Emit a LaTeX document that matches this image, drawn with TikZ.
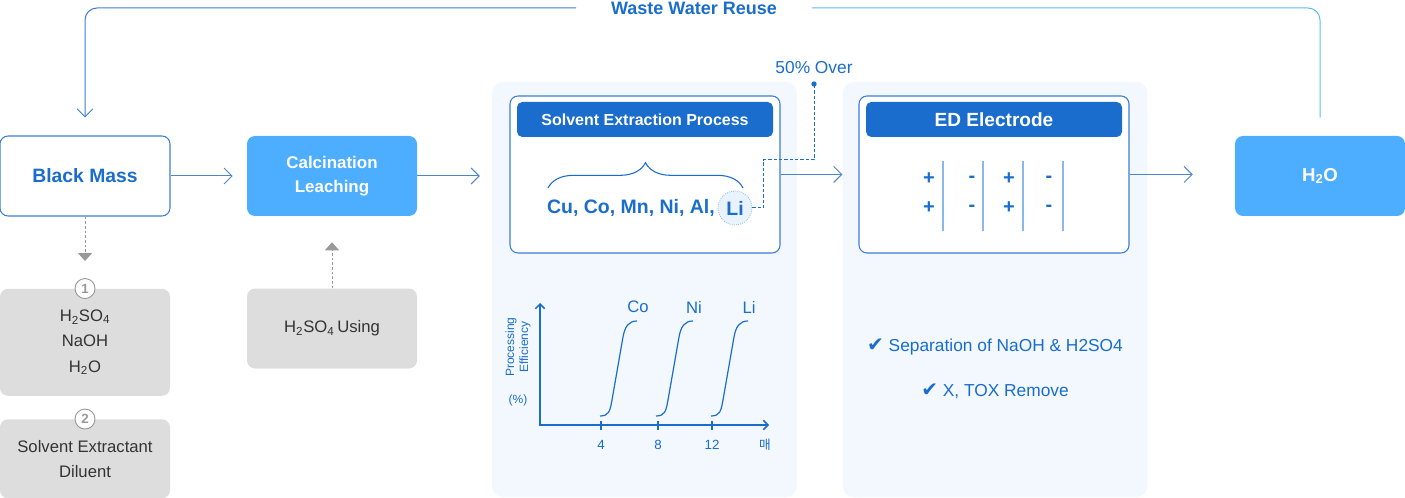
\documentclass[tikz,border=0pt]{standalone}
\usepackage{fontspec}
\setmainfont{Liberation Sans}
\newfontfamily\kofont{Noto Sans CJK KR}
\newfontfamily\symfont{DejaVu Sans}
\usetikzlibrary{arrows.meta,positioning,decorations.pathreplacing}

\definecolor{mainblue}{HTML}{1A6DCC}
\definecolor{edgeblue}{HTML}{3B7DD8}
\definecolor{flowblue}{HTML}{4A86C8}
\definecolor{skyblue}{HTML}{4DADFE}
\definecolor{reuseblue}{HTML}{5CBCF2}
\definecolor{panelbg}{HTML}{F2F8FE}
\definecolor{boxgray}{HTML}{DDDDDD}
\definecolor{textgray}{HTML}{333333}
\definecolor{dashgray}{HTML}{999999}
\definecolor{rodblue}{HTML}{8AB8EA}
\definecolor{lifill}{HTML}{E8F3FD}

\begin{document}
\begin{tikzpicture}[x=0.75pt,y=-0.75pt,>={Straight Barb[length=6pt,width=12pt]},
    box/.style={rectangle,rounded corners=6pt,minimum width=127.5pt,minimum height=60pt,align=center,inner sep=0pt},
    whitebox/.style={box,draw=edgeblue,fill=white,line width=0.8pt,text=mainblue,font=\bfseries\fontsize{14.5}{18}\selectfont},
    fillbox/.style={box,fill=skyblue,text=white,font=\bfseries\fontsize{12.7}{18}\selectfont},
    graybox/.style={box,fill=boxgray,text=textgray,font=\fontsize{12.5}{19}\selectfont},
    panel/.style={rectangle,fill=panelbg,rounded corners=8pt,minimum width=228.5pt,minimum height=311.25pt,inner sep=0pt},
    inner/.style={rectangle,draw=edgeblue,fill=white,line width=0.8pt,rounded corners=6pt,minimum width=202.5pt,minimum height=117.75pt,inner sep=0pt},
    header/.style={rectangle,fill=mainblue,rounded corners=4pt,minimum width=192pt,minimum height=26.25pt,text=white,inner sep=0pt},
    num/.style={circle,draw=dashgray,fill=white,line width=0.7pt,minimum size=15pt,inner sep=0pt,text=dashgray,font=\bfseries\fontsize{10}{11}\selectfont},
    flow/.style={->,draw=flowblue,line width=0.75pt},
    grayflow/.style={-{Triangle[length=6pt,width=10.5pt]},draw=dashgray,line width=0.75pt,dash pattern=on 2pt off 1.5pt},
    dashline/.style={draw=mainblue,line width=0.75pt,dash pattern=on 2.5pt off 1.5pt},
    axisline/.style={draw=mainblue,line width=1.1pt},
    curve/.style={draw=mainblue,line width=0.9pt},
    rod/.style={draw=rodblue,line width=1.5pt},
    sign/.style={text=mainblue,inner sep=0pt,font=\bfseries\fontsize{15}{17}\selectfont},
    bluetxt/.style={text=mainblue,inner sep=0pt}]

\useasboundingbox (0,0) rectangle (1405,498);

% main row
\node[whitebox] (bm) at (85,176) {Black Mass};
\node[fillbox] (calc) at (332,176) {Calcination\\Leaching};
\node[fillbox,font=\bfseries\fontsize{14}{18}\selectfont] (h2o) at (1320,176) {H\textsubscript{2}O};

% inputs
\node[graybox,minimum height=80.25pt] (ingr) [below=54pt of bm] {H\textsubscript{2}SO\textsubscript{4}\\NaOH\\H\textsubscript{2}O};
\node[graybox,minimum height=59.25pt] (solv) [below=17.25pt of ingr] {Solvent Extractant\\Diluent};
\node[graybox] (using) [below=54pt of calc] {H\textsubscript{2}SO\textsubscript{4}\,Using};
\node[num] (n1) at (ingr.north) {1};
\node[num] (n2) at (solv.north) {2};

\draw[grayflow,shorten >=12.75pt] (bm) -- (n1);
\draw[grayflow,shorten >=19.5pt] (using) -- (calc);

% solvent extraction
\node[panel] (sxpanel) at (644.5,289.5) {};
\node[inner] (sxbox) at (645,174.5) {};
\node[header,font=\bfseries\fontsize{12}{15}\selectfont] (sxhead) at (645,119.5) {Solvent Extraction Process};
\draw[draw=mainblue,line width=0.8pt,decorate,decoration={brace,amplitude=19pt}] (548,188) -- (743,188);
\node[bluetxt,anchor=east,font=\bfseries\fontsize{14.6}{18}\selectfont] (metals) at (715,208) {Cu, Co, Mn, Ni, Al,};
\node[circle,draw=rodblue,fill=lifill,densely dotted,line width=0.6pt,minimum size=25.5pt,inner sep=0pt,text=mainblue,font=\bfseries\fontsize{14.6}{18}\selectfont] (li) at (735,208) {Li};

\coordinate (over) at (814,84);
\coordinate (bend) at (814,160);
\draw[dashline] (li.east) -- ++(11,0) |- (bend) -- (over);
\fill[mainblue] (over) circle (2pt);
\node[bluetxt,font=\fontsize{13}{15}\selectfont] (overlbl) at (814,68) {50\% Over};

% chart
\coordinate (origin) at (540,425);
\draw[axisline,{Straight Barb[length=3.5pt,width=7pt]}-{Straight Barb[length=3.5pt,width=7pt]}] (540,303) |- (769,425);
\foreach \dx/\elem in {0/Co,56/Ni,111/Li} {
  \draw[curve,shift={(\dx,0)}] (600,416) .. controls (609,416) and (610,411) .. (612,400)
    -- (623,337) .. controls (625,326) and (629,321) .. (637,321);
  \node[bluetxt,font=\fontsize{12.5}{14}\selectfont] (lbl\elem) at (638+\dx,307) {\elem};
}
\foreach \tx/\tv in {601/4,658/8,712/12} {
  \draw[axisline,line width=0.9pt] (\tx,421) -- (\tx,430);
  \node[bluetxt,font=\fontsize{10}{11}\selectfont] (tick\tv) at (\tx,445) {\tv};
}
\node[bluetxt,font=\kofont\fontsize{9.5}{11}\selectfont] (unit) at (765,445) {매};
\node[bluetxt,rotate=90,align=center,font=\fontsize{9}{10.5}\selectfont] (ylbl) at (518,347) {Processing\\Efficiency};
\node[bluetxt,font=\fontsize{9}{10.5}\selectfont] (pct) at (518,400) {(\%)};

% electrodialysis
\node[panel] (edpanel) at (995,289.5) {};
\node[inner] (edbox) at (994,174.5) {};
\node[header,font=\bfseries\fontsize{14.3}{16}\selectfont] (edhead) at (994,119.5) {ED Electrode};
\foreach \ex in {943,983,1023,1063}
  \draw[rod] (\ex,161) -- (\ex,231);
\foreach \sx/\sg in {929/+,972/-,1009/+,1049/-} {
  \node[sign] at (\sx,179) {\sg};
  \node[sign] at (\sx,208) {\sg};
}
\node[bluetxt,font=\fontsize{13}{15}\selectfont] (chk1) at (995,347) {{\symfont\fontsize{15}{15}\selectfont ✔}\ Separation of NaOH \& H2SO4};
\node[bluetxt,font=\fontsize{13}{15}\selectfont] (chk2) at (995,391) {{\symfont\fontsize{15}{15}\selectfont ✔}\ X, TOX Remove};

% flow arrows
\draw[flow,shorten >=10.5pt] (bm) -- (calc);
\draw[flow,shorten >=9pt] (calc.east) -- (calc.east -| sxpanel.west);
\draw[flow] (sxbox.east) -- (sxbox.east -| edpanel.west);
\draw[flow,shorten >=31.5pt] (edbox.east) -- (edbox.east -| h2o.west);

% reuse loop
\node[bluetxt,inner xsep=26pt,font=\bfseries\fontsize{13.5}{15}\selectfont] (wwr) at (694,8) {Waste Water Reuse};
\draw[flow,draw=edgeblue,rounded corners=9pt,shorten >=13.5pt] (wwr.west) -| (bm.north);
\draw[draw=reuseblue,line width=0.75pt,rounded corners=9pt,shorten <=13.5pt] (h2o.north) |- (wwr.east);

\end{tikzpicture}
\end{document}
